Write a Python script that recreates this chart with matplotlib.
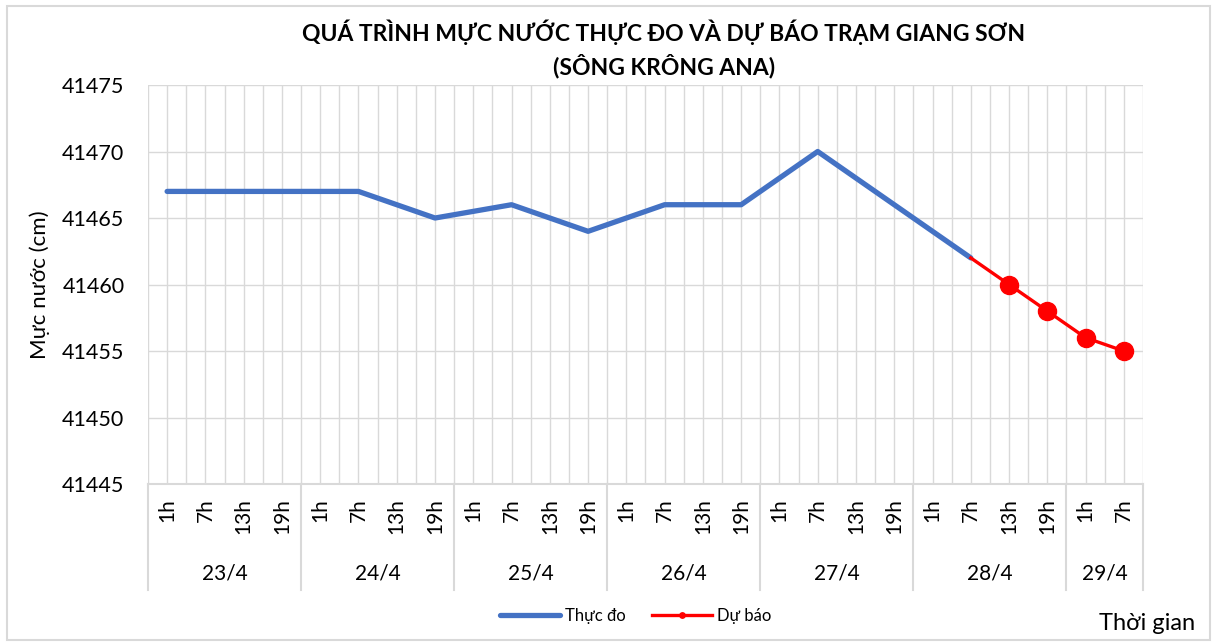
import matplotlib.pyplot as plt
import matplotlib as mpl
import numpy as np
from matplotlib.patches import Rectangle

plt.rcParams['font.family'] = ['Lato', 'Noto Sans', 'DejaVu Sans']

# du lieu
days      = ['23/4', '24/4', '25/4', '26/4', '27/4', '28/4', '29/4']
day_count = [4, 4, 4, 4, 4, 4, 2]
hours     = ['1h', '7h', '13h', '19h'] * 6 + ['1h', '7h']
thuc_do   = [41467, 41467, 41467, 41467, 41467, 41467, 41466, 41465,
             41465.5, 41466, 41465, 41464, 41465, 41466, 41466, 41466,
             41468, 41470, 41468, 41466, 41464, 41462]
du_bao    = [41462, 41460, 41458, 41456, 41455]

n = len(hours)
x_obs = np.arange(len(thuc_do))
x_fc  = np.arange(len(thuc_do) - 1, len(thuc_do) - 1 + len(du_bao))

fig = plt.figure(figsize=(12.17, 6.44), dpi=100)
fig.patches.append(Rectangle((0.006, 0.006), 0.988, 0.985, transform=fig.transFigure,
                             fill=False, edgecolor='#d9d9d9', linewidth=1.5))
ax = fig.add_axes([0.1216, 0.2484, 0.8176, 0.6196])

ax.plot(x_obs, thuc_do, color='#4472C4', linewidth=3.8, label='Thực đo', solid_capstyle='round')
ax.plot(x_fc, du_bao, color='#FF0000', linewidth=2.4, marker='o', markersize=13,
        markevery=[1, 2, 3, 4], label='Dự báo')

ax.set_xlim(-0.5, n - 0.5)
ax.set_ylim(41445, 41475)
ax.set_yticks(np.arange(41445, 41476, 5))
ax.set_xticks(np.arange(n))
ax.set_xticklabels(hours, rotation=90, fontsize=15)
ax.set_xticks(np.arange(-0.5, n, 1), minor=True)
ax.tick_params(axis='both', which='both', length=0)
ax.tick_params(axis='x', pad=10)
ax.tick_params(axis='y', labelsize=15.5, pad=17)
ax.grid(True, which='both', color='#d9d9d9', linewidth=1)
ax.set_axisbelow(True)
for s in ['left', 'right', 'top']:
    ax.spines[s].set_visible(False)
ax.spines['bottom'].set_color('#d9d9d9')
ax.spines['bottom'].set_linewidth(1.5)

# truc x nhieu cap
tr = ax.get_xaxis_transform()
edges = np.concatenate([[0], np.cumsum(day_count)]) - 0.5
for e in edges:
    ax.plot([e, e], [0, -0.266], color='#d9d9d9', linewidth=1.5, transform=tr, clip_on=False)
for i, d in enumerate(days):
    ax.text((edges[i] + edges[i + 1]) / 2, -0.225, d, transform=tr, ha='center', va='center', fontsize=15)

ax.set_ylabel('Mực nước (cm)', fontsize=16)
ax.yaxis.set_label_coords(-0.098, 0.5)

fig.text(0.5456, 0.95, 'QUÁ TRÌNH MỰC NƯỚC THỰC ĐO VÀ DỰ BÁO TRẠM GIANG SƠN', ha='center', va='center',
         fontsize=16.5, fontweight='bold')
fig.text(0.5456, 0.898, '(SÔNG KRÔNG ANA)', ha='center', va='center', fontsize=16.5, fontweight='bold')
fig.text(0.982, 0.032, 'Thời gian', ha='right', va='center', fontsize=17)

ax.legend(loc='center', bbox_to_anchor=(0.49, -0.33), ncol=2, frameon=False, fontsize=12,
          handlelength=3.6, markerscale=0.3, columnspacing=1.6, handletextpad=0.3)

fig.savefig('out.png', dpi=100)
